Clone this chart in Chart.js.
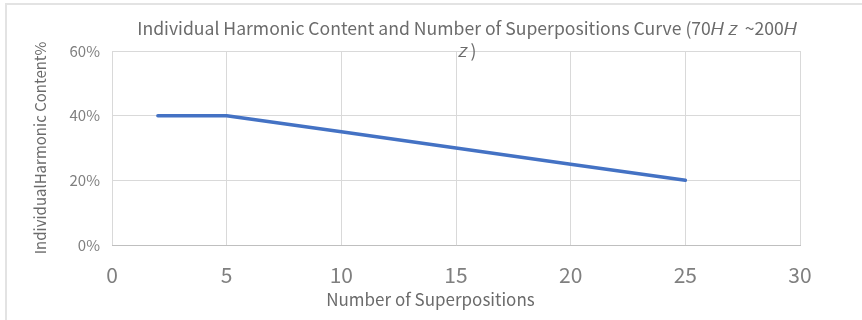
<!DOCTYPE html>
<html>
<head>
<meta charset="utf-8">
<script src="https://cdn.jsdelivr.net/npm/chart.js@4"></script>
<style>
	html, body { margin: 0; padding: 0; background: #fff; }
	#wrap { position: relative; width: 862px; height: 320px; }
	#frame { position: absolute; left: 5px; top: 3px; right: 0; bottom: 0; border-left: 2px solid #e3e3e3; border-top: 2px solid #e3e3e3; }
</style>
</head>
<body>
<div id="wrap">
	<div id="frame"></div>
	<canvas id="chart" width="862" height="320"></canvas>
</div>
<script>
// число наложений и доля отдельной гармоники, %
const superpositions = [2, 3, 4, 5, 10, 15, 20, 25]
const harmonicContent = [40, 40, 40, 40, 35, 30, 25, 20]

const xTicks = [0, 5, 10, 15, 20, 25, 30]
const yTicks = [0, 20, 40, 60]

const chartTitle = [
	'Individual Harmonic Content and Number of Superpositions Curve (70𝐻 𝑧  ~200𝐻',
	'𝑧 )',
]
const xTitle = 'Number of Superpositions'
const yTitle = 'IndividualHarmonic Content%'

const FONT = "'Noto Sans CJK SC', 'Noto Sans', sans-serif"
const gridColor = '#d9d9d9'

// заголовок центрируется по всей области диаграммы, а не по сетке
const titlePlugin = {
	id: 'wideTitle',
	afterDraw(chart) {
		const c = chart.ctx
		c.save()
		c.font = `17.6px ${FONT}`
		c.fillStyle = '#6b6b6b'
		c.textAlign = 'center'
		c.textBaseline = 'middle'
		chartTitle.forEach((line, i) => c.fillText(line, 467, 28 + i * 22))
		c.restore()
	},
}

const ctx = document.getElementById('chart').getContext('2d')

new Chart(ctx, {
	type: 'line',
	data: {
		datasets: [
			{
				data: superpositions.map((x, i) => ({ x, y: harmonicContent[i] })),
				borderColor: '#4472c4',
				borderWidth: 3.5,
				pointRadius: 0,
				tension: 0,
				borderCapStyle: 'round',
				borderJoinStyle: 'round',
			},
		],
	},
	options: {
		responsive: false,
		animation: false,
		layout: { padding: { left: 7, top: 51, right: 62, bottom: 0 } },
		plugins: {
			legend: { display: false },
			tooltip: { enabled: false },
			title: { display: false },
		},
		scales: {
			x: {
				type: 'linear',
				min: 0,
				max: 30,
				afterBuildTicks: s => { s.ticks = xTicks.map(v => ({ value: v })) },
				grid: { color: gridColor, drawTicks: false },
				border: { color: '#bfbfbf', width: 1 },
				ticks: {
					color: '#7f7f7f',
					font: { family: FONT, size: 21 },
					padding: 17,
					maxRotation: 0,
				},
				title: {
					display: true,
					text: xTitle + '\u3000\u3000\u3000',
					color: '#6b6b6b',
					font: { family: FONT, size: 17 },
					padding: { top: 0, bottom: 10 },
				},
				afterFit: s => { s.height = 75 },
			},
			y: {
				min: 0,
				max: 60,
				afterBuildTicks: s => { s.ticks = yTicks.map(v => ({ value: v })) },
				grid: { color: gridColor, drawTicks: false },
				border: { display: false },
				ticks: {
					color: '#7f7f7f',
					font: { family: FONT, size: 15 },
					padding: 12,
					callback: v => v + '%',
				},
				title: {
					display: true,
					text: yTitle,
					color: '#6b6b6b',
					font: { family: FONT, size: 15 },
					padding: { top: 24, bottom: 0 },
				},
				afterFit: s => { s.width = 105 },
			},
		},
	},
	plugins: [titlePlugin],
})
</script>
</body>
</html>
